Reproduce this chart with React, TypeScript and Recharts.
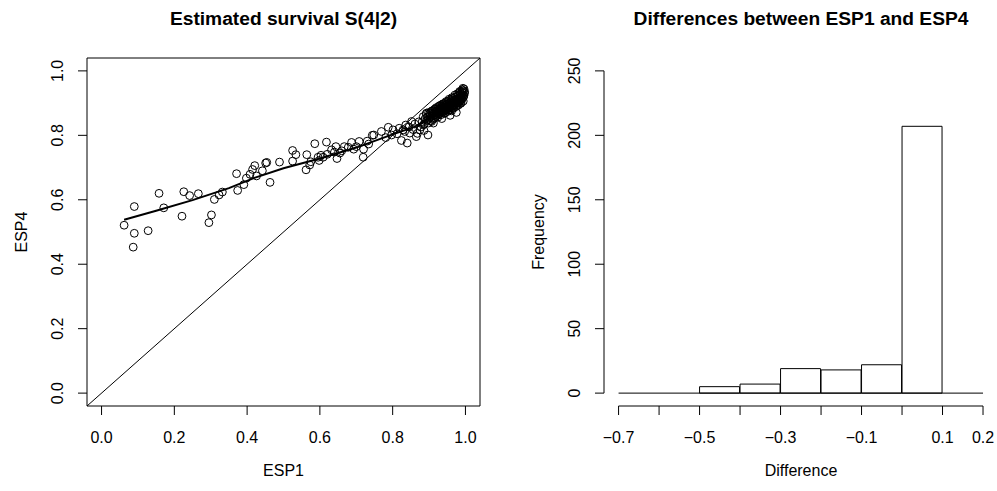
/* Two-panel comparison: ESP1 vs ESP4 scatter and histogram of their differences. */

import { Bar, ComposedChart, ReferenceArea, ReferenceLine, Scatter, XAxis, YAxis } from "recharts";

const FONT = "'Liberation Sans', Arial, Helvetica, sans-serif";

// ---- left panel: estimated survival S(4|2) ----
const unitTicks = [0, 0.2, 0.4, 0.6, 0.8, 1.0];

// [ESP1, ESP4] pairs
const lowTail: [number, number][] = [
  [0.062, 0.521], [0.09, 0.579], [0.09, 0.496], [0.087, 0.453], [0.128, 0.504],
  [0.158, 0.62], [0.171, 0.575], [0.221, 0.549], [0.226, 0.625], [0.242, 0.613],
  [0.266, 0.619], [0.302, 0.553], [0.295, 0.529], [0.31, 0.601], [0.323, 0.615],
  [0.332, 0.624],
];

const middleBand: [number, number][] = [
  [0.371, 0.681], [0.374, 0.629], [0.391, 0.647], [0.398, 0.667], [0.408, 0.679],
  [0.415, 0.694], [0.421, 0.706], [0.426, 0.674], [0.442, 0.69], [0.451, 0.714],
  [0.454, 0.716], [0.463, 0.654], [0.489, 0.717], [0.525, 0.753], [0.534, 0.74],
  [0.525, 0.72], [0.564, 0.74], [0.562, 0.693], [0.572, 0.708], [0.586, 0.774],
  [0.595, 0.732], [0.598, 0.722], [0.618, 0.779], [0.609, 0.732], [0.632, 0.755],
  [0.644, 0.765], [0.647, 0.728], [0.655, 0.745], [0.667, 0.765], [0.678, 0.763],
  [0.687, 0.778], [0.693, 0.757], [0.708, 0.781], [0.719, 0.732], [0.72, 0.757],
  [0.734, 0.773], [0.744, 0.8], [0.748, 0.801], [0.769, 0.812], [0.781, 0.793],
  [0.788, 0.825], [0.797, 0.801], [0.575, 0.718], [0.603, 0.738], [0.62, 0.741],
  [0.64, 0.748], [0.66, 0.752], [0.7, 0.765], [0.73, 0.782],
];

const crossingZone: [number, number][] = [
  [0.801, 0.817], [0.824, 0.784], [0.829, 0.817], [0.836, 0.832], [0.84, 0.776],
  [0.847, 0.807], [0.852, 0.843], [0.865, 0.796], [0.875, 0.817], [0.884, 0.832],
  [0.897, 0.801], [0.893, 0.869], [0.907, 0.843], [0.812, 0.805], [0.818, 0.822],
  [0.833, 0.812], [0.845, 0.826], [0.856, 0.818], [0.861, 0.835], [0.868, 0.806],
  [0.872, 0.842], [0.878, 0.826], [0.886, 0.815],
];

const upperCluster: [number, number][] = [
  [0.881, 0.842], [0.884, 0.858], [0.887, 0.835], [0.889, 0.851], [0.892, 0.866],
  [0.894, 0.846], [0.896, 0.857], [0.898, 0.838], [0.899, 0.871],
  [0.901, 0.853], [0.903, 0.862], [0.904, 0.845], [0.906, 0.871], [0.907, 0.858],
  [0.909, 0.866], [0.91, 0.849], [0.911, 0.877], [0.913, 0.861], [0.914, 0.869],
  [0.915, 0.854], [0.916, 0.882], [0.917, 0.865], [0.918, 0.873], [0.919, 0.858],
  [0.92, 0.886],
  [0.921, 0.869], [0.922, 0.876], [0.923, 0.862], [0.924, 0.881], [0.925, 0.871],
  [0.926, 0.889], [0.927, 0.866], [0.928, 0.878], [0.929, 0.884], [0.93, 0.872],
  [0.931, 0.893], [0.932, 0.869], [0.933, 0.881], [0.934, 0.887], [0.935, 0.876],
  [0.936, 0.895], [0.937, 0.871], [0.938, 0.884], [0.939, 0.89], [0.94, 0.879],
  [0.941, 0.898], [0.942, 0.876], [0.943, 0.887], [0.944, 0.893], [0.945, 0.882],
  [0.946, 0.901], [0.947, 0.879], [0.948, 0.889], [0.949, 0.896], [0.95, 0.885],
  [0.951, 0.905], [0.952, 0.882], [0.953, 0.892], [0.954, 0.899], [0.955, 0.888],
  [0.956, 0.908], [0.957, 0.886], [0.958, 0.895], [0.959, 0.902], [0.96, 0.891],
  [0.961, 0.911], [0.962, 0.889], [0.963, 0.899], [0.964, 0.906], [0.965, 0.894],
  [0.966, 0.914], [0.967, 0.892], [0.968, 0.902], [0.969, 0.909], [0.97, 0.897],
  [0.971, 0.918], [0.972, 0.895], [0.973, 0.905], [0.974, 0.912], [0.975, 0.9],
  [0.976, 0.921], [0.977, 0.899], [0.978, 0.908], [0.979, 0.915], [0.98, 0.904],
  [0.981, 0.924], [0.982, 0.902], [0.983, 0.912], [0.984, 0.919], [0.985, 0.908],
  [0.986, 0.928], [0.987, 0.906], [0.988, 0.916], [0.989, 0.923], [0.99, 0.912],
  [0.991, 0.932], [0.992, 0.915], [0.993, 0.926], [0.994, 0.938], [0.995, 0.92],
  [0.996, 0.944], [0.993, 0.946], [0.99, 0.936], [0.997, 0.93], [0.985, 0.934],
  [0.912, 0.838], [0.935, 0.852], [0.958, 0.862], [0.975, 0.871], [0.962, 0.876],
  [0.902, 0.868], [0.908, 0.876], [0.912, 0.852], [0.918, 0.881], [0.924, 0.856],
  [0.929, 0.892], [0.933, 0.864], [0.938, 0.898], [0.942, 0.868], [0.947, 0.905],
  [0.951, 0.874], [0.955, 0.912], [0.959, 0.879], [0.963, 0.917], [0.967, 0.884],
  [0.971, 0.925], [0.974, 0.889], [0.978, 0.929], [0.981, 0.894], [0.984, 0.936],
  [0.988, 0.9], [0.991, 0.941], [0.994, 0.906], [0.996, 0.924], [0.998, 0.935],
  [0.944, 0.87], [0.953, 0.878], [0.965, 0.886], [0.976, 0.892], [0.986, 0.899],
];

// smoothed trend (lowess)
const trendLine: [number, number][] = [
  [0.062, 0.538], [0.15, 0.566], [0.25, 0.599], [0.35, 0.636], [0.42, 0.668],
  [0.5, 0.698], [0.6, 0.728], [0.7, 0.762], [0.8, 0.803], [0.86, 0.826],
  [0.9, 0.852], [0.94, 0.881], [0.97, 0.905], [0.995, 0.935],
];

// ---- right panel: histogram of ESP1 - ESP4 ----
const binStarts = [-0.7, -0.6, -0.5, -0.4, -0.3, -0.2, -0.1, 0.0, 0.1];
const binWidth = 0.1;
const binCounts = [0, 0, 5, 7, 19, 18, 22, 207, 0];
const diffTicks = [-0.7, -0.6, -0.5, -0.4, -0.3, -0.2, -0.1, 0.0, 0.1, 0.2];
const diffLabels = [-0.7, -0.5, -0.3, -0.1, 0.1, 0.2];
const freqTicks = [0, 50, 100, 150, 200, 250];

const toXY = (p: [number, number]) => ({ x: p[0], y: p[1] });
const scatterData = [...lowTail, ...middleBand, ...crossingZone, ...upperCluster].map(toXY);
const trendData = trendLine.map(toXY);
const histData = binStarts.map((b, i) => ({ mid: b + binWidth / 2, count: binCounts[i] }));

const fmtSigned = (v: number) => {
  const s = Math.abs(v).toFixed(1);
  return v < -1e-9 ? "\u2212" + s : s;
};

function BottomTick(props: any) {
  const { x, y, payload, show } = props;
  const v = payload.value as number;
  if (show && !show.some((s: number) => Math.abs(s - v) < 1e-6)) return <g />;
  return (
    <text x={x} y={y + 11} textAnchor="middle" fontSize={16} fontFamily={FONT} fill="#000">
      {fmtSigned(v)}
    </text>
  );
}

function SideTick(props: any) {
  const { x, y, payload, digits } = props;
  const v = payload.value as number;
  return (
    <text
      x={x}
      y={y}
      transform={`rotate(-90 ${x} ${y})`}
      textAnchor="middle"
      fontSize={16}
      fontFamily={FONT}
      fill="#000"
    >
      {v.toFixed(digits)}
    </text>
  );
}

const Circle = (props: any) => (
  <circle cx={props.cx} cy={props.cy} r={3.9} fill="none" stroke="#000" strokeWidth={1} />
);
const NoDot = () => <g />;

function ScatterPanel() {
  return (
    <ComposedChart width={498} height={491} margin={{ top: 58, right: 18, bottom: 45, left: 47 }}>
      <XAxis
        type="number"
        dataKey="x"
        domain={[-0.04, 1.04]}
        ticks={unitTicks}
        interval={0}
        height={40}
        axisLine={false}
        tickSize={9}
        tickMargin={17}
        tickLine={{ stroke: "#000" }}
        tick={<BottomTick />}
        allowDataOverflow
      />
      <YAxis
        type="number"
        dataKey="y"
        domain={[-0.04, 1.04]}
        ticks={unitTicks}
        interval={0}
        width={40}
        axisLine={false}
        tickSize={9}
        tickMargin={15}
        tickLine={{ stroke: "#000" }}
        tick={<SideTick digits={1} />}
        allowDataOverflow
      />
      <ReferenceArea x1={-0.04} x2={1.04} y1={-0.04} y2={1.04} fill="none" stroke="#000" strokeWidth={1} fillOpacity={0} />
      <ReferenceLine
        segment={[{ x: -0.04, y: -0.04 }, { x: 1.04, y: 1.04 }]}
        stroke="#000"
        strokeWidth={1}
        ifOverflow="visible"
      />
      <Scatter data={scatterData} shape={<Circle />} isAnimationActive={false} />
      <Scatter
        data={trendData}
        shape={<NoDot />}
        line={{ stroke: "#000", strokeWidth: 2 }}
        lineType="joint"
        isAnimationActive={false}
      />
    </ComposedChart>
  );
}

function HistPanel() {
  const first = diffTicks[0];
  const last = diffTicks[diffTicks.length - 1];
  return (
    <ComposedChart
      width={500}
      height={491}
      data={histData}
      barCategoryGap={0}
      barGap={0}
      margin={{ top: 58, right: 0.4, bottom: 45, left: 66 }}
    >
      <XAxis
        type="number"
        dataKey="mid"
        domain={[-0.736, 0.236]}
        ticks={diffTicks}
        interval={0}
        height={40}
        axisLine={false}
        tickSize={9}
        tickMargin={17}
        tickLine={{ stroke: "#000" }}
        tick={<BottomTick show={diffLabels} />}
        allowDataOverflow
      />
      <YAxis
        type="number"
        domain={[-10, 260]}
        ticks={freqTicks}
        interval={0}
        width={40}
        axisLine={false}
        tickSize={9}
        tickMargin={15}
        tickLine={{ stroke: "#000" }}
        tick={<SideTick digits={0} />}
        allowDataOverflow
      />
      <Bar dataKey="count" fill="#fff" stroke="#000" strokeWidth={1} isAnimationActive={false} />
      <ReferenceLine segment={[{ x: first, y: 0 }, { x: last, y: 0 }]} stroke="#000" ifOverflow="visible" />
      <ReferenceLine segment={[{ x: first, y: -10 }, { x: last, y: -10 }]} stroke="#000" ifOverflow="visible" />
      <ReferenceLine segment={[{ x: -0.736, y: 0 }, { x: -0.736, y: 250 }]} stroke="#000" ifOverflow="visible" />
    </ComposedChart>
  );
}

export default function App() {
  return (
    <div style={{ position: "absolute", left: 0, top: 0, width: 997, height: 491, overflow: "hidden", background: "#fff" }}>
      <div style={{ position: "absolute", left: 0, top: 0 }}>
        <ScatterPanel />
      </div>
      <div style={{ position: "absolute", left: 498, top: 0 }}>
        <HistPanel />
      </div>
      <svg
        width={997}
        height={491}
        style={{ position: "absolute", left: 0, top: 0, pointerEvents: "none" }}
        fontFamily={FONT}
      >
        <text x={283.5} y={25} textAnchor="middle" fontSize={19.2} fontWeight="bold">
          Estimated survival S(4|2)
        </text>
        <text x={801} y={25} textAnchor="middle" fontSize={19.2} fontWeight="bold">
          Differences between ESP1 and ESP4
        </text>
        <text x={283.5} y={476} textAnchor="middle" fontSize={16}>
          ESP1
        </text>
        <text x={801} y={476} textAnchor="middle" fontSize={16}>
          Difference
        </text>
        <text x={27} y={232} textAnchor="middle" fontSize={16} transform="rotate(-90 27 232)">
          ESP4
        </text>
        <text x={544} y={232} textAnchor="middle" fontSize={16} transform="rotate(-90 544 232)">
          Frequency
        </text>
      </svg>
    </div>
  );
}
